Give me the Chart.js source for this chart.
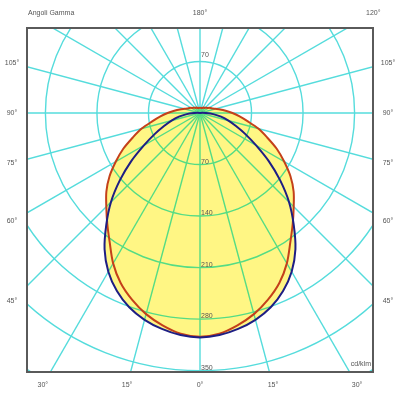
<!DOCTYPE html>
<html>
<head>
<meta charset="utf-8">
<script src="https://cdn.jsdelivr.net/npm/chart.js@4.4.0/dist/chart.umd.min.js"></script>
<style>
  html, body { margin: 0; padding: 0; background: #fff; }
  #wrap { width: 400px; height: 400px; }
</style>
</head>
<body>
<div id="wrap"><canvas id="polar" width="400" height="400"></canvas></div>
<script>
// angoli gamma (gradi) e intensità (cd/klm) dei due piani C
const gammaAngles = [0, 5, 10, 15, 20, 25, 30, 35, 40, 45, 50, 55, 60, 65, 70, 75, 80, 85, 90,
  95, 100, 105, 110, 115, 120, 125, 130, 135, 140, 145, 150, 155, 160, 165, 170, 175, 180];
const planeC0 = [304, 301, 293, 283, 270, 255, 236, 214, 196, 180, 166, 150, 132, 115, 97, 82, 66, 54, 44,
  35, 28, 22, 18, 16, 14, 12, 11, 10, 9, 9, 8, 8, 7, 7, 7, 7, 7];
const planeC90 = [305, 303, 298, 291, 281, 267, 249, 226, 198, 171, 142, 114, 88, 68, 52, 40, 29, 18, 8,
  3, 0, 0, 0, 0, 0, 0, 0, 0, 0, 0, 0, 0, 0, 0, 0, 0, 0];

// griglia
const ringValues = [70, 140, 210, 280, 350, 420, 490];
const ringLabelsBelow = [70, 140, 210, 280, 350];
const ringLabelsAbove = [70];
const radialAngles = [0, 15, 30, 45, 60, 75, 90, 105, 120, 135, 150, 165, 180,
  195, 210, 225, 240, 255, 270, 285, 300, 315, 330, 345];
const sideLabels = [105, 90, 75, 60, 45];
const bottomLabels = [30, 15, 0];
const topLabels = [180, 120];

const gridColor = "#55dcdc";
const textColor = "#555";
const labelFont = "7px 'Liberation Sans', Arial, sans-serif";

// curva chiusa: lato sinistro da 180 a 0, poi lato destro da 0 a 180
function toCurve(values) {
  const pts = [];
  for (let i = gammaAngles.length - 1; i >= 0; i--) {
    const g = gammaAngles[i] * Math.PI / 180;
    pts.push({ x: -values[i] * Math.sin(g), y: -values[i] * Math.cos(g) });
  }
  for (let i = 1; i < gammaAngles.length; i++) {
    const g = gammaAngles[i] * Math.PI / 180;
    pts.push({ x: values[i] * Math.sin(g), y: -values[i] * Math.cos(g) });
  }
  return pts;
}

const photoGrid = {
  id: "photoGrid",
  beforeDraw(chart) {
    const { ctx, chartArea: a, scales: { x, y } } = chart;
    const cx = x.getPixelForValue(0);
    const cy = y.getPixelForValue(0);
    const unit = x.getPixelForValue(1) - cx;
    ctx.save();
    ctx.beginPath();
    ctx.rect(a.left, a.top, a.width, a.height);
    ctx.clip();
    ctx.strokeStyle = gridColor;
    ctx.lineWidth = 1.4;
    ringValues.forEach((v) => {
      ctx.beginPath();
      ctx.arc(cx, cy, v * unit, 0, Math.PI * 2);
      ctx.stroke();
    });
    radialAngles.forEach((deg) => {
      const g = deg * Math.PI / 180;
      ctx.beginPath();
      ctx.moveTo(cx, cy);
      ctx.lineTo(x.getPixelForValue(900 * Math.sin(g)), y.getPixelForValue(-900 * Math.cos(g)));
      ctx.stroke();
    });
    ctx.restore();
  },
  // il riempimento giallo "scurisce" la griglia senza sommarsi
  beforeDatasetsDraw(chart) {
    chart.ctx.globalCompositeOperation = "darken";
  },
  beforeDatasetDraw(chart) {
    chart.ctx.globalCompositeOperation = "source-over";
  },
  afterDatasetDraw(chart) {
    chart.ctx.globalCompositeOperation = "darken";
  },
  afterDatasetsDraw(chart) {
    chart.ctx.globalCompositeOperation = "source-over";
  },
  afterDraw(chart) {
    const { ctx, chartArea: a, scales: { x, y } } = chart;
    const cx = x.getPixelForValue(0);
    ctx.save();
    ctx.strokeStyle = "#5a5a5a";
    ctx.lineWidth = 2;
    ctx.strokeRect(a.left, a.top, a.width, a.height);

    ctx.fillStyle = textColor;
    ctx.font = labelFont;

    // valori dei cerchi
    ctx.textAlign = "left";
    ctx.textBaseline = "bottom";
    ringLabelsBelow.forEach((v) => ctx.fillText(String(v), cx + 1, y.getPixelForValue(-v) + 1));
    ringLabelsAbove.forEach((v) => ctx.fillText(String(v), cx + 1, y.getPixelForValue(v) - 3));

    // angoli: i raggi prolungati fino alla riga delle etichette
    ctx.textAlign = "center";
    ctx.textBaseline = "middle";
    const sideX = x.getValueForPixel(a.left - 15);
    const bottomY = y.getValueForPixel(a.bottom + 13);
    const topY = y.getValueForPixel(a.top - 15);
    sideLabels.forEach((deg) => {
      const g = deg * Math.PI / 180;
      const yv = Math.cos(g) * sideX / Math.sin(g);
      const py = y.getPixelForValue(yv);
      ctx.fillText(deg + "°", a.left - 15, py);
      ctx.fillText(deg + "°", a.right + 15, py);
    });
    bottomLabels.forEach((deg) => {
      const xv = -bottomY * Math.tan(deg * Math.PI / 180);
      ctx.fillText(deg + "°", x.getPixelForValue(-xv), a.bottom + 13);
      if (deg !== 0) ctx.fillText(deg + "°", x.getPixelForValue(xv), a.bottom + 13);
    });
    topLabels.forEach((deg) => {
      const xv = -topY * Math.tan(deg * Math.PI / 180);
      ctx.fillText(deg + "°", x.getPixelForValue(Math.abs(xv) < 1e-6 ? 0 : Math.abs(xv)), a.top - 15);
    });

    ctx.textAlign = "left";
    ctx.fillText("Angoli Gamma", a.left + 1, a.top - 15);
    ctx.textAlign = "right";
    ctx.textBaseline = "bottom";
    ctx.fillText("cd/klm", a.right - 2, a.bottom - 4);
    ctx.restore();
  }
};

new Chart(document.getElementById("polar"), {
  type: "scatter",
  data: {
    datasets: [
      {
        label: "C0-C180",
        data: toCurve(planeC0),
        showLine: true,
        fill: "shape",
        backgroundColor: "#fff684",
        borderColor: "#c4401a",
        borderWidth: 2,
        pointRadius: 0,
        tension: 0.3,
        order: 2,
      },
      {
        label: "C90-C270",
        data: toCurve(planeC90),
        showLine: true,
        fill: "shape",
        backgroundColor: "#fff684",
        borderColor: "#1e1e84",
        borderWidth: 2,
        pointRadius: 0,
        tension: 0.3,
        order: 1,
      },
    ],
  },
  options: {
    responsive: false,
    animation: false,
    layout: { padding: { left: 27, right: 27, top: 28, bottom: 28 } },
    scales: {
      x: { type: "linear", min: -235, max: 235, display: false },
      y: { type: "linear", min: -352, max: 115.5, display: false },
    },
    plugins: {
      legend: { display: false },
      tooltip: { enabled: false },
    },
  },
  plugins: [photoGrid],
});
</script>
</body>
</html>
